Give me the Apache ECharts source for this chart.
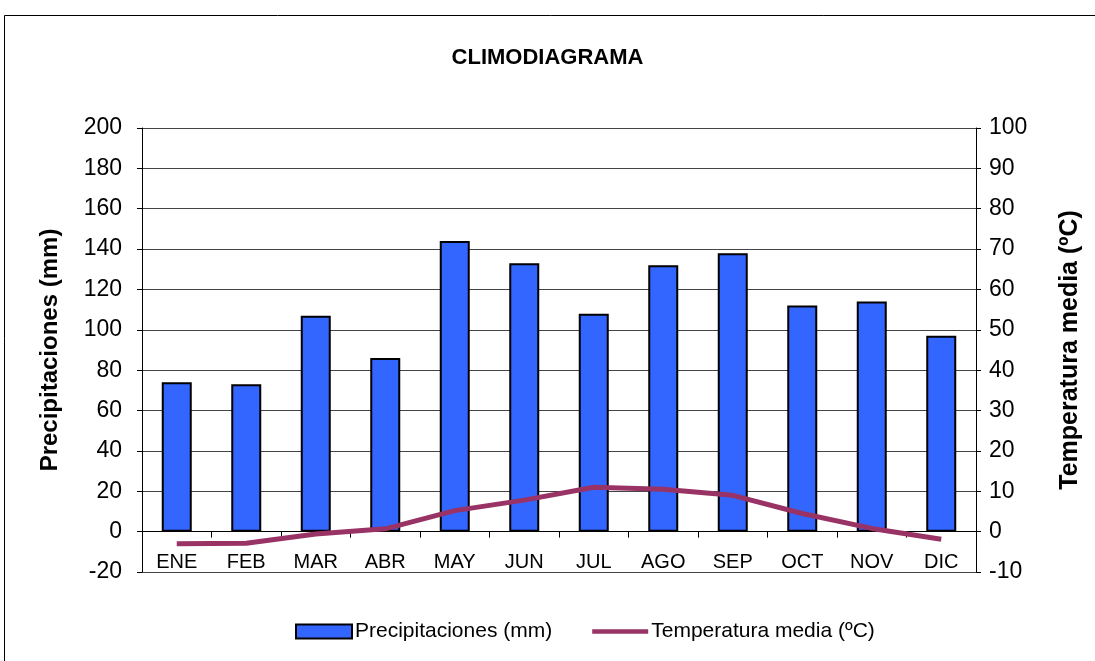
<!DOCTYPE html>
<html>
<head>
<meta charset="utf-8">
<script src="https://cdn.jsdelivr.net/npm/echarts@6/dist/echarts.min.js"></script>
<style>
  html, body { margin: 0; padding: 0; background: #fff; }
  #chart { width: 1095px; height: 661px; }
</style>
</head>
<body>
<div id="chart"></div>
<script>
// datos del climodiagrama
var meses = ['ENE', 'FEB', 'MAR', 'ABR', 'MAY', 'JUN', 'JUL', 'AGO', 'SEP', 'OCT', 'NOV', 'DIC']
var precipitaciones = [74, 73, 107, 86, 144, 133, 108, 132, 138, 112, 114, 97]
var temperatura = [-3, -2.9, -0.6, 0.7, 5.2, 7.8, 11, 10.5, 9, 4.5, 0.8, -1.9]

var fuente = 'Liberation Sans, Arial, sans-serif'
var chart = echarts.init(document.getElementById('chart'))

chart.setOption({
  animation: false,
  textStyle: { fontFamily: fuente, color: '#000' },
  graphic: [{
    type: 'rect',
    shape: { x: 4.5, y: 15.5, width: 1200, height: 800 },
    style: { fill: 'none', stroke: '#000', lineWidth: 1 },
    silent: true
  }],
  title: {
    text: 'CLIMODIAGRAMA',
    left: 'center',
    top: 42,
    textStyle: { fontSize: 22, fontWeight: 'bold', fontFamily: fuente, color: '#000' }
  },
  legend: {
    bottom: 14,
    left: 290,
    itemGap: 40,
    itemWidth: 56,
    itemHeight: 14,
    textStyle: { fontSize: 21, fontFamily: fuente, color: '#000', padding: [0, 0, 0, -2] },
    data: [
      { name: 'Precipitaciones (mm)', icon: 'rect' },
      {
        name: 'Temperatura media (ºC)',
        icon: 'path://M0,0 H60 V5 H0 Z',
        itemStyle: { color: '#993366' }
      }
    ]
  },
  grid: { left: 142, right: 119, top: 128, bottom: 89 },
  xAxis: {
    type: 'category',
    data: meses,
    axisLine: { onZero: true, onZeroAxisIndex: 0, lineStyle: { color: '#000', width: 1 } },
    axisTick: { show: true, length: 6, lineStyle: { color: '#000' } },
    axisLabel: { fontSize: 20, color: '#000', margin: -20, fontFamily: fuente }
  },
  yAxis: [
    {
      type: 'value',
      min: -20,
      max: 200,
      interval: 20,
      name: 'Precipitaciones (mm)',
      nameLocation: 'middle',
      nameGap: 80,
      nameTextStyle: { fontSize: 24, fontWeight: 'bold', color: '#000', fontFamily: fuente },
      axisLine: { show: true, lineStyle: { color: '#000' } },
      axisTick: { show: true, length: 5, lineStyle: { color: '#000' } },
      axisLabel: { fontSize: 23, color: '#000', margin: 20, fontFamily: fuente },
      splitLine: { show: true, lineStyle: { color: '#444', width: 1 } }
    },
    {
      type: 'value',
      min: -10,
      max: 100,
      interval: 10,
      position: 'right',
      name: 'Temperatura media (ºC)',
      nameLocation: 'middle',
      nameGap: 82,
      nameTextStyle: { fontSize: 25, fontWeight: 'bold', color: '#000', fontFamily: fuente },
      axisLine: { show: true, lineStyle: { color: '#000' } },
      axisTick: { show: true, length: 5, lineStyle: { color: '#000' } },
      axisLabel: { fontSize: 23, color: '#000', margin: 13, fontFamily: fuente },
      splitLine: { show: false }
    }
  ],
  series: [
    {
      name: 'Precipitaciones (mm)',
      type: 'bar',
      yAxisIndex: 0,
      barWidth: 30,
      data: precipitaciones,
      itemStyle: { color: '#3366ff', borderColor: '#000', borderWidth: 2 }
    },
    {
      name: 'Temperatura media (ºC)',
      type: 'line',
      yAxisIndex: 1,
      data: temperatura,
      symbol: 'none',
      lineStyle: { color: '#993366', width: 5 },
      itemStyle: { color: '#993366' }
    }
  ]
})
</script>
</body>
</html>
